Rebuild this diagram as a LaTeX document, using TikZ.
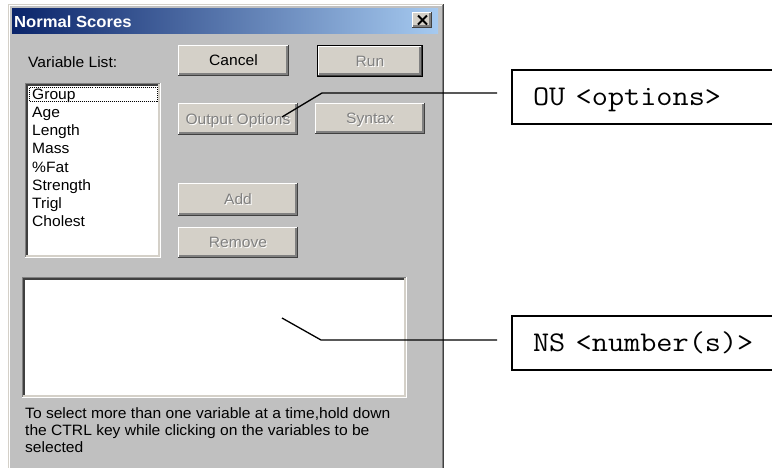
\documentclass[tikz,border=0pt]{standalone}
\usepackage{fontspec}
\setmainfont{Liberation Sans}[FakeStretch=1.04]
\usetikzlibrary{calc}

\definecolor{dlgbg}{HTML}{C0C0C0}
\definecolor{btnface}{HTML}{D4D0C8}
\definecolor{edgegray}{HTML}{808080}
\definecolor{edgedark}{HTML}{404040}
\definecolor{captionL}{HTML}{0A246A}
\definecolor{captionR}{HTML}{A6CAF0}

\newcommand\dlgfont{\fontsize{15}{18}\selectfont}
% greyed-out (disabled) label with its white emboss
\newcommand\dimlabel[1]{\rlap{\hspace{1pt}\raisebox{-1pt}{\textcolor{white}{#1}}}\textcolor{edgegray}{#1}}
% typewriter text of the command boxes, slightly widened
\newcommand\cmdtext[1]{\scalebox{1.1}[1]{#1}}

% raised 3D edge around a named node
\newcommand\raisedbevel[1]{%
  \draw[white,line width=1.3pt] ($(#1.south west)+(0.65,-1.3)$) -- ($(#1.north west)+(0.65,0.65)$) -- ($(#1.north east)+(-1.3,0.65)$);
  \draw[edgedark,line width=1.3pt] ($(#1.south west)+(0,-0.65)$) -- ($(#1.south east)+(-0.65,-0.65)$) -- ($(#1.north east)+(-0.65,0)$);
  \draw[edgegray,line width=1.3pt] ($(#1.south west)+(1.3,-1.95)$) -- ($(#1.south east)+(-1.95,-1.95)$) -- ($(#1.north east)+(-1.95,1.3)$);
}
% sunken 3D edge around a named node
\newcommand\sunkenbevel[1]{%
  \draw[edgegray,line width=1.4pt] ($(#1.south west)+(0.7,-1.4)$) -- ($(#1.north west)+(0.7,0.7)$) -- ($(#1.north east)+(-1.4,0.7)$);
  \draw[edgedark,line width=1.4pt] ($(#1.south west)+(2.1,-2.8)$) -- ($(#1.north west)+(2.1,2.1)$) -- ($(#1.north east)+(-2.8,2.1)$);
  \draw[white,line width=1.4pt] ($(#1.south west)+(0,-0.7)$) -- ($(#1.south east)+(-0.7,-0.7)$) -- ($(#1.north east)+(-0.7,0)$);
  \draw[btnface,line width=1.4pt] ($(#1.south west)+(1.4,-2.1)$) -- ($(#1.south east)+(-2.1,-2.1)$) -- ($(#1.north east)+(-2.1,1.4)$);
}

\tikzset{
  btn/.style={fill=btnface, inner sep=0pt, outer sep=0pt, anchor=north west,
    text height=11pt, text depth=1pt, font=\dlgfont},
  field/.style={fill=white, inner sep=0pt, outer sep=0pt, anchor=north west},
  dlgtext/.style={inner sep=0pt, anchor=base west, font=\dlgfont},
  callout/.style={draw=black, line width=1.3pt, fill=white, anchor=north west,
    inner xsep=21pt, inner ysep=15pt, outer sep=0pt, text width=258pt, align=left,
    text height=20pt, text depth=4pt, font=\ttfamily\fontsize{28.5}{32}\selectfont},
  leader/.style={black, line width=1.3pt, shorten >=15pt},
}

\begin{document}
\begin{tikzpicture}[x=1pt,y=-1pt]
\useasboundingbox (0,0) rectangle (772,467);
\clip (0,0) rectangle (772,467);
\fill[white] (0,0) rectangle (772,467);

% dialog frame
\fill[dlgbg] (8,4) rectangle (444,470);
\draw[btnface,line width=1pt] (8.5,470) -- (8.5,4.5) -- (443,4.5);
\draw[white,line width=1pt] (9.5,470) -- (9.5,5.5) -- (442,5.5);
\draw[edgegray,line width=1pt] (442.5,5) -- (442.5,470);
\draw[edgedark,line width=1pt] (443.5,4) -- (443.5,470);

% caption bar
\shade[left color=captionL,right color=captionR] (12,8) rectangle (438,33);
\node[inner sep=0pt, anchor=base west, text=white, font=\bfseries\fontsize{16}{19}\selectfont] (caption) at (14,27) {Normal Scores};
\node[btn, minimum width=20pt, minimum height=16pt] (close) at (412,12) {};
\raisedbevel{close}
\draw[black,line width=2pt] ($(close.north west)+(6,3.5)$) -- ($(close.south east)+(-5,-3.5)$);
\draw[black,line width=2pt] ($(close.north east)+(-5,3.5)$) -- ($(close.south west)+(6,-3.5)$);

% variable list
\node[dlgtext] (varlbl) at (28,67) {Variable List:};
\node[field, minimum width=136pt, minimum height=175pt] (varlist) at (25,83) {};
\sunkenbevel{varlist}
\draw[black,line width=1pt,dash pattern=on 1pt off 1pt] (29.5,87.5) rectangle (157.5,101.5);
\node[dlgtext] (v1) at (32,99.3) {Group};
\node[dlgtext] (v2) at (32,117.5) {Age};
\node[dlgtext] (v3) at (32,135.7) {Length};
\node[dlgtext] (v4) at (32,153.9) {Mass};
\node[dlgtext] (v5) at (32,172.1) {\%Fat};
\node[dlgtext] (v6) at (32,190.3) {Strength};
\node[dlgtext] (v7) at (32,208.5) {Trigl};
\node[dlgtext] (v8) at (32,226.7) {Cholest};

% buttons
\node[btn, minimum width=111pt, minimum height=31pt] (cancel) at (178,45) {Cancel};
\raisedbevel{cancel}
\node[btn, minimum width=104pt, minimum height=30pt] (run) at (318,46) {\dimlabel{Run}};
\raisedbevel{run}
\draw[black,line width=1.3pt] ($(run.north west)+(-0.65,-0.65)$) rectangle ($(run.south east)+(0.65,0.65)$);
\node[btn, minimum width=120pt, minimum height=32pt] (outopts) at (178,103) {\dimlabel{Output Options}};
\raisedbevel{outopts}
\node[btn, minimum width=110pt, minimum height=31pt] (syntax) at (315,103) {\dimlabel{Syntax}};
\raisedbevel{syntax}
\node[btn, minimum width=120pt, minimum height=33pt] (add) at (178,183) {\dimlabel{Add}};
\raisedbevel{add}
\node[btn, minimum width=120pt, minimum height=31pt] (remove) at (178,227) {\dimlabel{Remove}};
\raisedbevel{remove}

% output area
\node[field, minimum width=385pt, minimum height=121pt] (outarea) at (22,277) {};
\sunkenbevel{outarea}

% hint text
\node[dlgtext] (hint1) at (25,418) {To select more than one variable at a time,hold down};
\node[dlgtext] (hint2) at (25,435.2) {the CTRL key while clicking on the variables to be};
\node[dlgtext] (hint3) at (25,452.4) {selected};

% command callouts
\node[callout] (ou) at (512,70) {\cmdtext{OU <options>}};
\node[callout] (ns) at (512,316) {\cmdtext{NS <number(s)>}};

\coordinate (oufoot) at (282,117);
\coordinate (oubend) at (322,93);
\draw[leader] (oufoot) -- (oubend) -- (oubend -| ou.west);

\coordinate (nsfoot) at (282,318);
\coordinate (nsbend) at (321,340);
\draw[leader] (nsfoot) -- (nsbend) -- (nsbend -| ns.west);
\end{tikzpicture}
\end{document}
